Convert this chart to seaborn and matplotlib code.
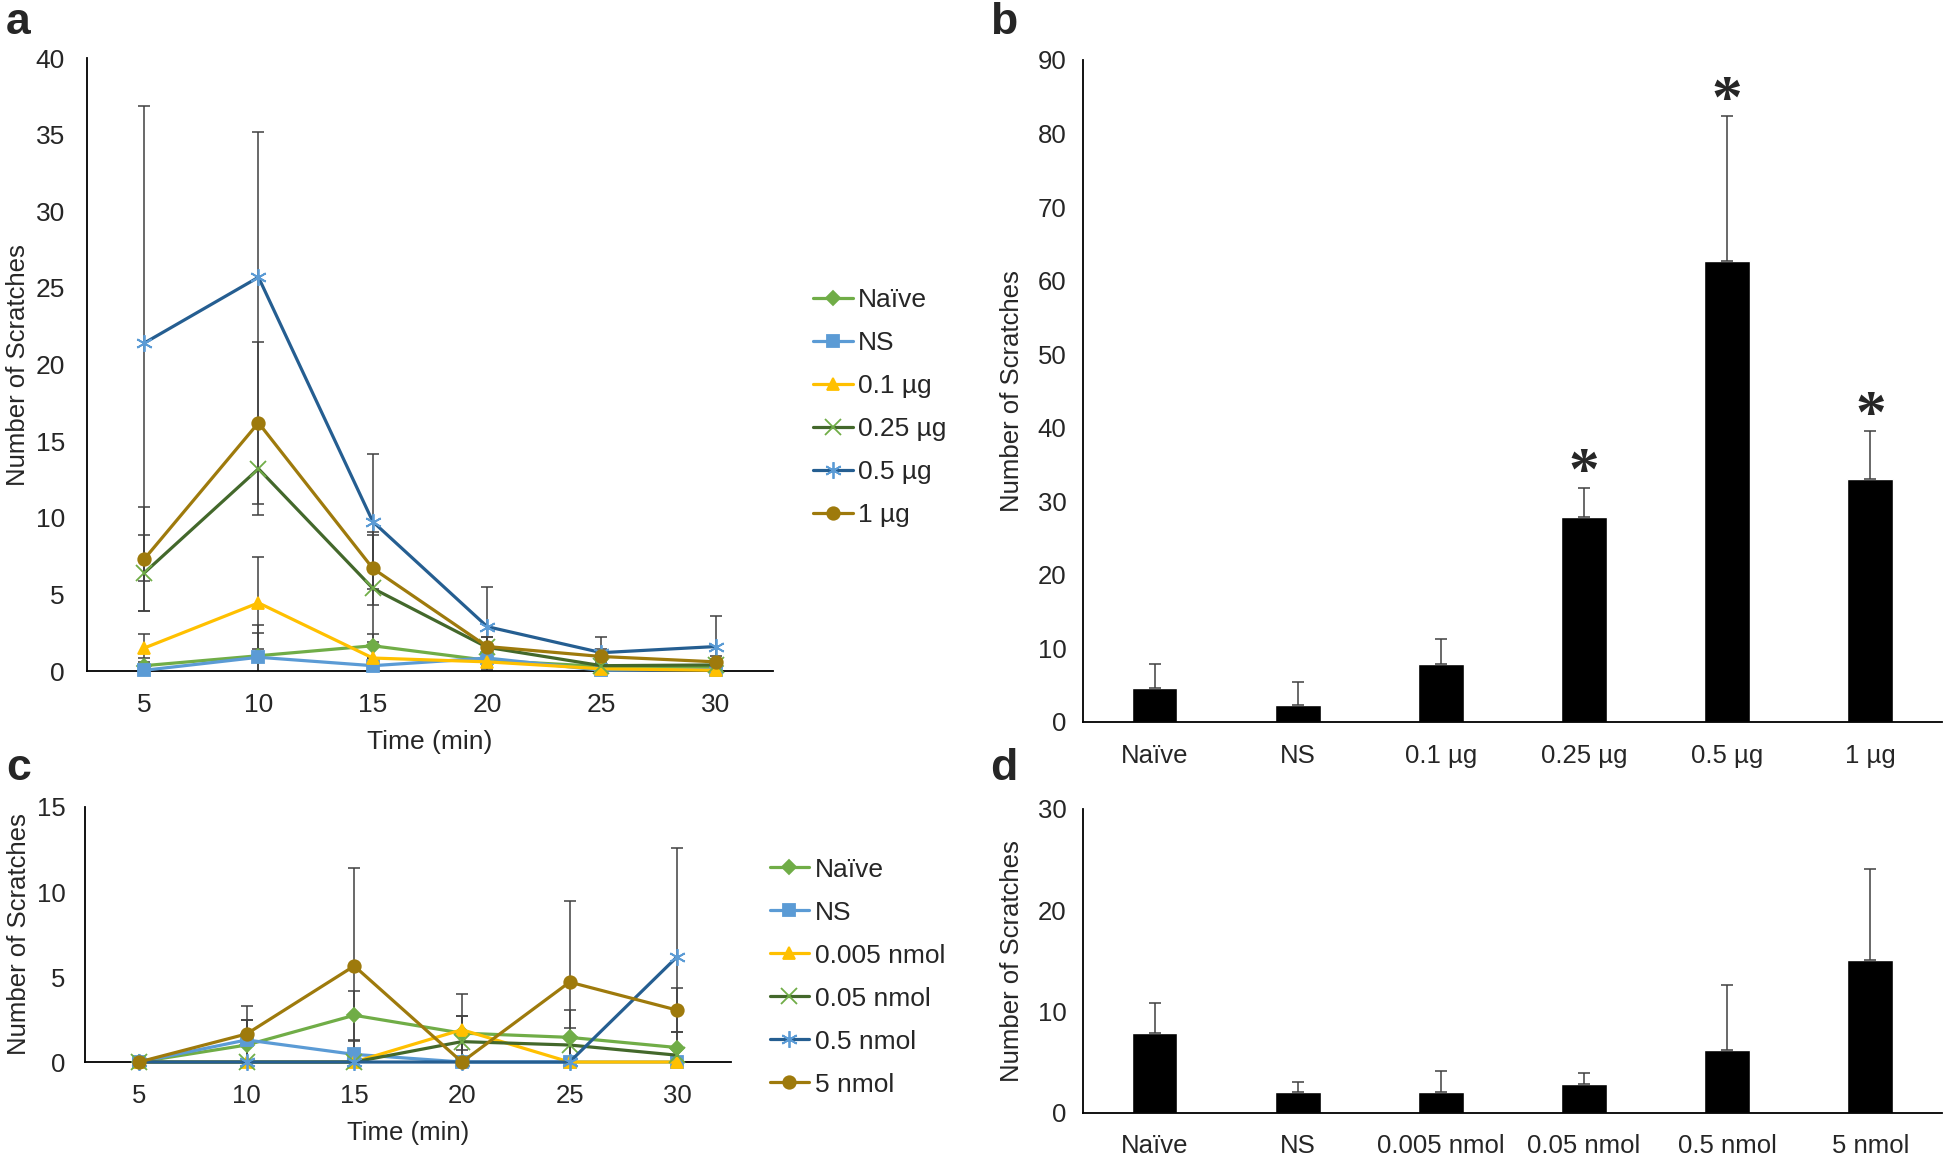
import numpy as np
import matplotlib
matplotlib.use('Agg')
import matplotlib.pyplot as plt
import seaborn as sns
from matplotlib import font_manager

# ---- data ----
time_min = [5, 10, 15, 20, 25, 30]

a_labels = ['Naïve', 'NS', '0.1 µg', '0.25 µg', '0.5 µg', '1 µg']
a_naive = [0.35, 1.0, 1.65, 0.7, 0.3, 0.3]
a_ns = [0.05, 0.9, 0.35, 0.85, 0.05, 0.1]
a_01 = [1.5, 4.45, 0.85, 0.6, 0.15, 0.05]
a_025 = [6.4, 13.2, 5.4, 1.55, 0.35, 0.4]
a_05 = [21.4, 25.7, 9.75, 2.9, 1.2, 1.6]
a_1 = [7.3, 16.2, 6.7, 1.6, 0.95, 0.6]
a_naive_sd = [0.5, 2.0, 0.8, 0.5, 0.3, 0.3]
a_ns_sd = [0.2, 1.6, 0.5, 0.6, 0.2, 0.2]
a_01_sd = [0.9, 3.0, 0.8, 0.5, 0.3, 0.2]
a_025_sd = [2.5, 3.0, 3.5, 0.7, 0.4, 0.4]
a_05_sd = [15.5, 9.5, 4.4, 2.6, 1.0, 2.0]
a_1_sd = [3.4, 5.3, 2.4, 0.6, 0.5, 0.4]

b_mean = [4.6, 2.3, 7.95, 27.9, 62.7, 33.0]
b_sd = [3.3, 3.1, 3.35, 3.9, 19.7, 6.6]
b_star = [False, False, False, True, True, True]

c_labels = ['Naïve', 'NS', '0.005 nmol', '0.05 nmol', '0.5 nmol', '5 nmol']
c_naive = [0, 1.0, 2.75, 1.7, 1.45, 0.85]
c_ns = [0, 1.3, 0.45, 0, 0, 0]
c_0005 = [0, 0, 0, 1.9, 0, 0]
c_005 = [0, 0, 0, 1.2, 1.0, 0.4]
c_05 = [0, 0, 0, 0, 0, 6.2]
c_5 = [0, 1.65, 5.65, 0, 4.7, 3.05]
c_naive_sd = [0, 1.5, 1.45, 1.0, 1.6, 0.9]
c_ns_sd = [0, 1.2, 0.8, 0, 0, 0]
c_0005_sd = [0, 0, 0, 2.1, 0, 0]
c_005_sd = [0, 0, 0, 1.5, 1.0, 0.5]
c_05_sd = [0, 0, 0, 0, 0, 6.4]
c_5_sd = [0, 1.65, 5.75, 0, 4.75, 1.3]

d_mean = [7.9, 2.05, 2.05, 2.85, 6.25, 15.1]
d_sd = [3.0, 1.05, 2.05, 1.1, 6.35, 9.0]

# ---- styles ----
line_colors = ['#70AD47', '#5B9BD5', '#FFC000', '#43682B', '#255E91', '#9E7A0C']
edge_colors = ['#70AD47', '#5B9BD5', '#FFC000', '#70AD47', '#5B9BD5', '#9E7A0C']
markers = ['D', 's', '^', 'x', (6, 2, 0), 'o']
msizes = [7, 8, 9, 11, 12, 9]
err_color = '#404040'

sns.set_theme(style='white')
plt.rcParams['font.family'] = ['Liberation Sans', 'DejaVu Sans']
names = {f.name for f in font_manager.fontManager.ttflist}
if 'Liberation Sans Narrow' in names:
    narrow = ['Liberation Sans Narrow', 'Liberation Sans', 'DejaVu Sans']
    nsize = 22
else:
    narrow = ['Liberation Sans', 'DejaVu Sans']
    nsize = 18.5
FS = 18.5


def style_axes(ax):
    for s in ['top', 'right']:
        ax.spines[s].set_visible(False)
    for s in ['left', 'bottom']:
        ax.spines[s].set_color('black')
        ax.spines[s].set_linewidth(1.3)
    ax.tick_params(length=0)


def line_panel(ax, series, sds, labels, ylim, ystep, fam, fsize):
    for vals, sd, col in zip(series, sds, line_colors):
        vals = np.array(vals, float)
        sd = np.array(sd, float)
        m = sd > 0
        ax.errorbar(np.array(time_min)[m], vals[m], yerr=sd[m], fmt='none',
                    ecolor=err_color, elinewidth=1.1, capsize=4, capthick=1.1, zorder=2)
    for vals, lab, col, ec, mk, ms in zip(series, labels, line_colors, edge_colors, markers, msizes):
        sns.lineplot(x=time_min, y=vals, color=col, marker=mk, markersize=ms,
                     markeredgecolor=ec, markerfacecolor=ec, markeredgewidth=1.3,
                     linewidth=2.3, label=lab, ax=ax, clip_on=False, zorder=3)
    ax.set_xlim(2.5, 32.5)
    ax.set_ylim(*ylim)
    ax.set_xticks(time_min)
    ax.set_yticks(np.arange(ylim[0], ylim[1] + 0.1, ystep))
    style_axes(ax)
    for t in ax.get_xticklabels() + ax.get_yticklabels():
        t.set_family(fam)
        t.set_fontsize(fsize)
    ax.set_xlabel('Time (min)', family=fam, fontsize=fsize)
    ax.set_ylabel('Number of Scratches', fontsize=FS)
    h, l = ax.get_legend_handles_labels()
    ax.get_legend().remove()
    return h, l


def bar_panel(ax, labels, mean, sd, ylim, ystep):
    sns.barplot(x=labels, y=mean, order=labels, color='black', saturation=1,
                width=0.32, ax=ax, zorder=2)
    ax.errorbar(np.arange(len(labels)), mean, yerr=[np.zeros(len(sd)), sd], fmt='none',
                ecolor=err_color, elinewidth=1.1, capsize=4, capthick=1.1, zorder=3)
    ax.set_xlim(-0.5, len(labels) - 0.5)
    ax.set_ylim(*ylim)
    ax.set_yticks(np.arange(ylim[0], ylim[1] + 0.1, ystep))
    style_axes(ax)
    for t in ax.get_xticklabels() + ax.get_yticklabels():
        t.set_family(narrow)
        t.set_fontsize(nsize)
    ax.set_ylabel('Number of Scratches', fontsize=FS)


fig = plt.figure(figsize=(19.46, 11.55), dpi=100)
ax_a = fig.add_axes([0.0447, 0.419, 0.3525, 0.5307])
ax_b = fig.add_axes([0.5565, 0.3749, 0.4414, 0.5732])
ax_c = fig.add_axes([0.0437, 0.0805, 0.332, 0.2208])
ax_d = fig.add_axes([0.5565, 0.0364, 0.4414, 0.2632])

h, l = line_panel(ax_a, [a_naive, a_ns, a_01, a_025, a_05, a_1],
                  [a_naive_sd, a_ns_sd, a_01_sd, a_025_sd, a_05_sd, a_1_sd],
                  a_labels, (0, 40), 5, ['Liberation Sans', 'DejaVu Sans'], 19)
ax_a.tick_params(axis='y', pad=16)
ax_a.tick_params(axis='x', pad=16)
ax_a.xaxis.labelpad = 9
fig.legend(h, l, loc='center left', bbox_to_anchor=(0.418, 0.647), frameon=False,
           fontsize=19, handlelength=1.5, handletextpad=0.2, labelspacing=0.72,
           borderpad=0, borderaxespad=0)

h, l = line_panel(ax_c, [c_naive, c_ns, c_0005, c_005, c_05, c_5],
                  [c_naive_sd, c_ns_sd, c_0005_sd, c_005_sd, c_05_sd, c_5_sd],
                  c_labels, (0, 15), 5, narrow, nsize)
ax_c.tick_params(axis='y', pad=14)
ax_c.tick_params(axis='x', pad=16)
ax_c.xaxis.labelpad = 9
fig.legend(h, l, loc='center left', bbox_to_anchor=(0.3955, 0.154), frameon=False,
           fontsize=19, handlelength=1.5, handletextpad=0.2, labelspacing=0.72,
           borderpad=0, borderaxespad=0)

bar_panel(ax_b, a_labels, b_mean, b_sd, (0, 90), 10)
ax_b.tick_params(axis='y', pad=12)
ax_b.tick_params(axis='x', pad=16)
ax_b.yaxis.labelpad = 10
for i, (m, s, star) in enumerate(zip(b_mean, b_sd, b_star)):
    if star:
        ax_b.annotate('*', xy=(i, m + s + 4), xytext=(0, -22), textcoords='offset points',
                      ha='center', va='baseline', fontsize=44, fontweight='bold',
                      family=['Liberation Serif', 'DejaVu Serif'])

bar_panel(ax_d, c_labels, d_mean, d_sd, (0, 30), 10)
ax_d.tick_params(axis='y', pad=12)
ax_d.tick_params(axis='x', pad=15)
ax_d.yaxis.labelpad = 10

for txt, x, y in [('a', 0.003, 0.998), ('b', 0.509, 0.998), ('c', 0.003, 0.352), ('d', 0.509, 0.352)]:
    fig.text(x, y, txt, fontsize=32, fontweight='bold', va='top', ha='left')

fig.savefig('out.png', dpi=100, facecolor='white')
